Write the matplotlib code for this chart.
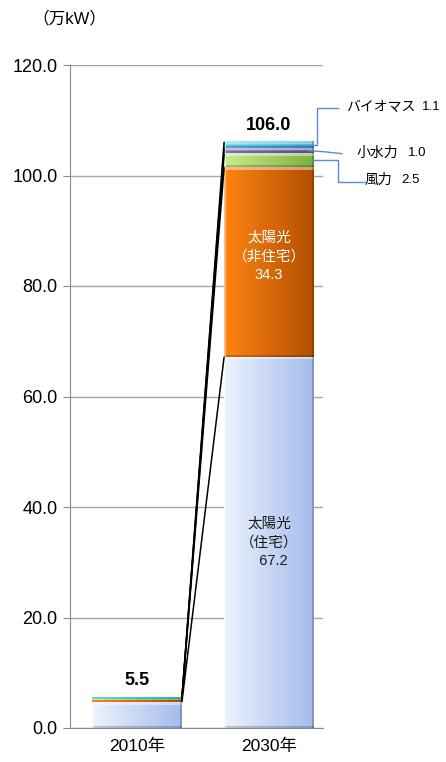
import numpy as np
import matplotlib
matplotlib.use("Agg")
import matplotlib.pyplot as plt
from matplotlib.colors import to_rgb

plt.rcParams['font.family'] = ['Liberation Sans', 'Noto Sans CJK JP', 'DejaVu Sans']

# ---- data ----
years = ["2010年", "2030年"]
series = ["太陽光（住宅）", "太陽光（非住宅）", "風力", "小水力", "バイオマス"]
solar_res = [4.7, 67.2]
solar_nonres = [0.4, 34.3]
wind = [0.1, 2.5]
hydro = [0.1, 1.0]
biomass = [0.2, 1.1]
totals = [5.5, 106.0]
yticks = [0.0, 20.0, 40.0, 60.0, 80.0, 100.0, 120.0]

values = [solar_res, solar_nonres, wind, hydro, biomass]
grad = [("#EEF3FD", "#A3BCEC"),
        ("#FF8412", "#B24F00"),
        ("#C8EC8E", "#7FB03E"),
        ("#A08ED6", "#6E5EAE"),
        ("#66D4F2", "#2DA6CF")]

W, H = 446, 762
fig = plt.figure(figsize=(W / 100, H / 100), dpi=100)
ax = fig.add_axes([70 / W, (762 - 728) / H, 253 / W, 663 / H])
ax.set_xlim(-0.5076, 1.409)
ax.set_ylim(0, 120)
bw = 0.68
xs = np.arange(len(years))

px_x = 1 / 132.0        # data units per pixel horizontally
px_y = 120 / 663.0      # data units per pixel vertically


def draw_segment(x0, x1, y0, y1, c_left, c_right):
    hpx = max(int(round((y1 - y0) / px_y)), 2)
    ncol = 90
    cl = np.array(to_rgb(c_left))
    cr = np.array(to_rgb(c_right))
    t = np.linspace(0, 1, ncol)[None, :, None]
    img = np.repeat(cl[None, None, :] * (1 - t) + cr[None, None, :] * t, hpx, axis=0)
    if hpx >= 6:
        # bevel: lighter top, darker bottom
        img[:3] = img[:3] * 0.55 + 0.45
        img[-2:] = img[-2:] * 0.8
        img[:, :2] = img[:, :2] * 0.55 + 0.45
        img[:, -2:] = img[:, -2:] * 0.8
    ax.imshow(np.clip(img, 0, 1), extent=[x0, x1, y0, y1], aspect='auto',
              origin='upper', zorder=3, interpolation='bilinear')


# bars
cum = np.zeros(len(years))
tops = []
for vals, (cl, cr) in zip(values, grad):
    v = np.array(vals)
    for i, x in enumerate(xs):
        draw_segment(x - bw / 2, x + bw / 2, cum[i], cum[i] + v[i], cl, cr)
    cum = cum + v
    tops.append(cum.copy())
ax.set_xlim(-0.5076, 1.409)
ax.set_ylim(0, 120)

# series lines
for tp in tops:
    ax.plot([xs[0] + bw / 2, xs[1] - bw / 2], [tp[0], tp[1]], color='black',
            lw=1.1, zorder=4, solid_capstyle='butt')

# grid & axes styling
ax.set_yticks(yticks)
ax.set_yticklabels([f"{v:.1f}" for v in yticks], fontsize=13)
ax.yaxis.grid(True, color='#A6A6A6', lw=1)
ax.set_axisbelow(True)
for s in ['top', 'right']:
    ax.spines[s].set_visible(False)
ax.spines['left'].set_color('#8C8C8C')
ax.spines['bottom'].set_color('#8C8C8C')
ax.tick_params(axis='y', length=5, color='#8C8C8C', pad=4)
ax.tick_params(axis='x', length=0, pad=8)
ax.set_xticks(xs)
ax.set_xticklabels(years, fontsize=12.5)

# totals
for i, x in enumerate(xs):
    ax.text(x, totals[i] + 1.6, f"{totals[i]:.1f}", ha='center', va='bottom',
            fontsize=13, fontweight='bold', zorder=5)

# inside labels
ax.text(xs[1], solar_res[1] + solar_nonres[1] / 2 + 1.0,
        f"太陽光\n（非住宅）\n{solar_nonres[1]}", ha='center', va='center',
        color='white', fontsize=10.5, linespacing=1.45, zorder=5)
ax.text(xs[1], solar_res[1] / 2, f"太陽光\n（住宅）\n  {solar_res[1]}",
        ha='center', va='center', color='#1A1A1A', fontsize=10.5,
        linespacing=1.45, zorder=5)

# side labels with leader lines
lc = '#5B8BD0'
c2030 = [t[1] for t in tops]
right = xs[1] + bw / 2
# biomass
yb = c2030[3] + biomass[1] / 2
ax.plot([right - 21 * px_x, right + 3 * px_x, right + 3 * px_x, right + 24 * px_x],
        [yb, yb, yb + 36.5 * px_y, yb + 36.5 * px_y],
        color=lc, lw=1, zorder=5, clip_on=False)
# hydro
yh = c2030[2] + hydro[1] / 2
ax.plot([right - 6 * px_x, right + 9 * px_x, right + 28 * px_x],
        [yh, yh - 1 * px_y, yh - 3 * px_y], color=lc, lw=1, zorder=5, clip_on=False)
# wind
yw = c2030[1] + wind[1] / 2
ax.plot([right - 2 * px_x, right + 24 * px_x, right + 24 * px_x, right + 51 * px_x],
        [yw, yw, yw - 22 * px_y, yw - 22 * px_y], color=lc, lw=1, zorder=5, clip_on=False)

lab = [("バイオマス", biomass[1], right + 32 * px_x, yb + 38 * px_y, 76 * px_x),
       ("小水力", hydro[1], right + 43 * px_x, yh - 2 * px_y, 51 * px_x),
       ("風力", wind[1], right + 51 * px_x, yw - 20 * px_y, 36 * px_x)]
for name, val, lx, ly, off in lab:
    ax.text(lx, ly, name, ha='left', va='center', fontsize=10, clip_on=False)
    ax.text(lx + off, ly, f"{val}", ha='left', va='center', fontsize=9.5, clip_on=False)

fig.text(69 / W, 1 - 18 / H, "（万kW）", ha='center', va='center', fontsize=12)

fig.savefig("out.png", dpi=100, facecolor='white')
